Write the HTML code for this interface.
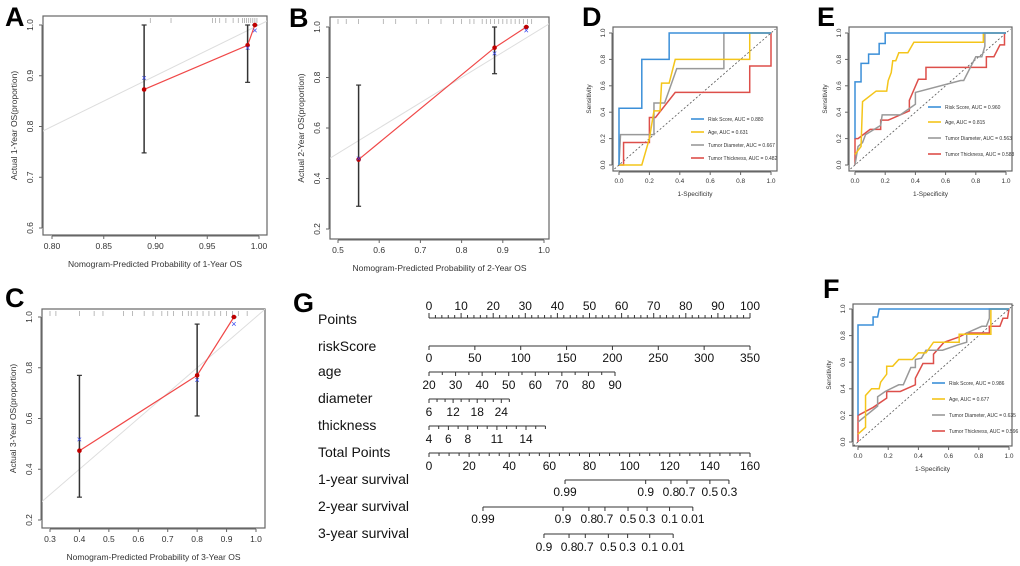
<!DOCTYPE html>
<html><head><meta charset="utf-8">
<style>
html,body{margin:0;padding:0;background:#fff;}
svg{display:block;font-family:"Liberation Sans",Arial,sans-serif;}
</style></head>
<body>
<svg id="fig" width="1020" height="566" viewBox="0 0 1020 566" xmlns="http://www.w3.org/2000/svg">
<defs>
<clipPath id="clipA"><rect x="43" y="16" width="224" height="219"/></clipPath>
<clipPath id="clipB"><rect x="330" y="17" width="219" height="222"/></clipPath>
<clipPath id="clipC"><rect x="42" y="309" width="223" height="219"/></clipPath>
</defs>
</svg>
<script>
// ---------- Calibration data ----------
const calA_pred = [0.889, 0.989, 0.996];
const calA_obs = [0.873, 0.960, 1.0];
const calA_ideal = [0.896, 0.955, 0.989];
const calA_lo = [0.748, 0.887, 1.0];
const calA_hi = [1.0, 1.0, 1.0];
const calA_rug = [0.895,0.915,0.955,0.958,0.962,0.968,0.975,0.98,0.984,0.986,0.988,0.99,0.992,0.994,0.996,0.998];
const calA_xticks = [0.80,0.85,0.90,0.95,1.00];
const calA_xlabels = ["0.80","0.85","0.90","0.95","1.00"];
const calA_yticks = [0.6,0.7,0.8,0.9,1.0];
const calA_ylabels = ["0.6","0.7","0.8","0.9","1.0"];

const calB_pred = [0.55, 0.88, 0.957];
const calB_obs = [0.475, 0.918, 1.0];
const calB_ideal = [0.48, 0.895, 0.987];
const calB_lo = [0.29, 0.815, 1.0];
const calB_hi = [0.77, 1.0, 1.0];
const calB_rug = [0.5,0.52,0.55,0.61,0.64,0.69,0.72,0.75,0.78,0.8,0.82,0.83,0.85,0.86,0.87,0.88,0.89,0.9,0.91,0.92,0.93,0.94,0.95,0.96,0.97];
const calB_xticks = [0.5,0.6,0.7,0.8,0.9,1.0];
const calB_xlabels = ["0.5","0.6","0.7","0.8","0.9","1.0"];
const calB_yticks = [0.2,0.4,0.6,0.8,1.0];
const calB_ylabels = ["0.2","0.4","0.6","0.8","1.0"];

const calC_pred = [0.40, 0.80, 0.925];
const calC_obs = [0.473, 0.77, 1.0];
const calC_ideal = [0.517, 0.752, 0.972];
const calC_lo = [0.29, 0.61, 1.0];
const calC_hi = [0.77, 0.972, 1.0];
const calC_rug = [0.3,0.32,0.4,0.45,0.48,0.55,0.58,0.62,0.65,0.68,0.7,0.72,0.75,0.77,0.78,0.8,0.82,0.84,0.86,0.88,0.9,0.92,0.94,0.97];
const calC_xticks = [0.3,0.4,0.5,0.6,0.7,0.8,0.9,1.0];
const calC_xlabels = ["0.3","0.4","0.5","0.6","0.7","0.8","0.9","1.0"];
const calC_yticks = [0.2,0.4,0.6,0.8,1.0];
const calC_ylabels = ["0.2","0.4","0.6","0.8","1.0"];

// ---------- ROC data (fpr, tpr) ----------
const rocD_risk_x = [0,0,0.15,0.15,0.33,0.33,1];
const rocD_risk_y = [0,0.43,0.43,0.8,0.8,1,1];
const rocD_age_x = [0,0.15,0.2,0.23,0.27,0.28,0.33,0.37,0.86,0.86,1];
const rocD_age_y = [0,0,0.2,0.41,0.41,0.62,0.62,0.8,0.8,1,1];
const rocD_diam_x = [0,0.01,0.23,0.23,0.3,0.38,0.69,0.69,1];
const rocD_diam_y = [0,0.23,0.23,0.47,0.47,0.73,0.73,1,1];
const rocD_thick_x = [0,0.03,0.03,0.2,0.2,0.24,0.37,0.86,0.86,1,1];
const rocD_thick_y = [0,0,0.17,0.17,0.36,0.36,0.55,0.55,0.75,0.75,1];
const rocD_legend = ["Risk Score, AUC = 0.880","Age, AUC = 0.631","Tumor Diameter, AUC = 0.667","Tumor Thickness, AUC = 0.482"];

const rocE_risk_x = [0,0,0.04,0.04,0.09,0.09,0.16,0.16,0.2,0.2,1];
const rocE_risk_y = [0.2,0.63,0.63,0.77,0.77,0.84,0.84,0.92,0.92,1,1];
const rocE_age_x = [0,0.04,0.05,0.14,0.21,0.22,0.24,0.25,0.27,0.29,0.35,0.39,0.85,0.85,1];
const rocE_age_y = [0.08,0.14,0.48,0.56,0.56,0.64,0.7,0.79,0.79,0.85,0.85,0.93,0.93,1,1];
const rocE_diam_x = [0,0.02,0.05,0.07,0.17,0.18,0.3,0.4,0.4,0.7,0.72,0.8,0.84,0.86,0.86,1];
const rocE_diam_y = [0,0.14,0.17,0.23,0.3,0.38,0.38,0.46,0.55,0.64,0.64,0.82,0.82,0.9,1,1];
const rocE_thick_x = [0,0,0.02,0.1,0.17,0.17,0.22,0.36,0.36,0.42,0.47,0.47,0.87,0.87,0.92,0.96,0.99,0.99,1];
const rocE_thick_y = [0,0.2,0.2,0.27,0.27,0.34,0.34,0.41,0.49,0.65,0.65,0.74,0.74,0.82,0.82,0.91,0.91,1,1];
const rocE_legend = ["Risk Score, AUC = 0.960","Age, AUC = 0.815","Tumor Diameter, AUC = 0.563","Tumor Thickness, AUC = 0.583"];

const rocF_risk_x = [0,0,0.1,0.1,0.13,0.14,1];
const rocF_risk_y = [0.2,0.88,0.88,0.94,0.94,1,1];
const rocF_age_x = [0,0.05,0.05,0.09,0.14,0.15,0.19,0.19,0.23,0.27,0.36,0.4,0.45,0.5,0.67,0.67,0.88,0.88,1];
const rocF_age_y = [0.06,0.11,0.35,0.4,0.4,0.45,0.51,0.57,0.57,0.62,0.62,0.67,0.67,0.75,0.75,0.81,0.81,1,1];
const rocF_diam_x = [0,0.13,0.13,0.18,0.27,0.3,0.35,0.38,0.38,0.42,0.45,0.56,0.66,0.72,0.72,0.82,0.85,0.87,0.87,1];
const rocF_diam_y = [0.15,0.27,0.34,0.38,0.43,0.43,0.56,0.56,0.62,0.63,0.69,0.69,0.73,0.75,0.82,0.87,0.87,0.93,1,1];
const rocF_thick_x = [0,0,0.1,0.19,0.19,0.28,0.38,0.38,0.43,0.5,0.5,0.57,0.67,0.72,0.87,0.87,0.94,0.96,0.99,1];
const rocF_thick_y = [0,0.2,0.26,0.33,0.38,0.38,0.43,0.48,0.59,0.59,0.66,0.75,0.79,0.82,0.82,0.87,0.87,0.93,0.93,1];
const rocF_legend = ["Risk Score, AUC = 0.986","Age, AUC = 0.677","Tumor Diameter, AUC = 0.635","Tumor Thickness, AUC = 0.596"];

const rocTicks = [0,0.2,0.4,0.6,0.8,1.0];
const rocTickLabels = ["0.0","0.2","0.4","0.6","0.8","1.0"];

// ---------- Nomogram data ----------
const nomoPointsLabels = [0,10,20,30,40,50,60,70,80,90,100];
const nomoRiskLabels = [0,50,100,150,200,250,300,350];
const nomoAgeLabels = [20,30,40,50,60,70,80,90];
const nomoDiamLabels = [6,12,18,24];
const nomoThickLabels = [4,6,8,11,14];
const nomoTotalLabels = [0,20,40,60,80,100,120,140,160];
const nomoSurv1Labels = ["0.99","0.9","0.8","0.7","0.5","0.3"];
const nomoSurv1Pts = [67.8,108,120.6,128.6,140,149.5];
const nomoSurv2Labels = ["0.99","0.9","0.8","0.7","0.5","0.3","0.1","0.01"];
const nomoSurv2Pts = [26.9,66.8,79.7,87.7,99.2,108.7,119.9,131.5];
const nomoSurv3Labels = ["0.9","0.8","0.7","0.5","0.3","0.1","0.01"];
const nomoSurv3Pts = [57.3,69.8,77.9,89.4,99,110,121.7];

const NS = "http://www.w3.org/2000/svg";
const fig = document.getElementById("fig");
function mk(tag, attrs, parent) {
  const e = document.createElementNS(NS, tag);
  for (const k in attrs) e.setAttribute(k, attrs[k]);
  (parent || fig).appendChild(e);
  return e;
}
function txt(s, attrs, parent) { const t = mk("text", attrs, parent); t.textContent = s; return t; }
function lin(v0,p0,v1,p1){ return v => p0 + (v - v0) * (p1 - p0) / (v1 - v0); }

function panelLetter(s, x, y, name) {
  const t = txt(s, {x:x, y:y, "font-size":27, "font-weight":"bold", fill:"#000"});
  
  
}

function axes(g, box, sx, sy, xt, xl, yt, yl, fs, xLabY, yLabX, xTitle, yTitle, xTitleY, yTitleX) {
  const [x0,y0,x1,y1] = box;
  const frame = mk("rect", {x:x0, y:y0, width:x1-x0, height:y1-y0, fill:"none", stroke:"#666", "stroke-width":1.2}, g);
  
  
  const xa = mk("g", {}, g);
  
  
  mk("line", {x1:sx(xt[0]), x2:sx(xt[xt.length-1]), y1:y1+1, y2:y1+1, stroke:"#666"}, xa);
  xt.forEach((v,i) => {
    mk("line", {x1:sx(v), x2:sx(v), y1:y1+1, y2:y1+4, stroke:"#666"}, xa);
    txt(xl[i], {x:sx(v), y:xLabY, "font-size":fs, "text-anchor":"middle", fill:"#333"}, xa);
  });
  const ya = mk("g", {}, g);
  
  
  mk("line", {x1:x0-1, x2:x0-1, y1:sy(yt[0]), y2:sy(yt[yt.length-1]), stroke:"#666"}, ya);
  yt.forEach((v,i) => {
    mk("line", {x1:x0-4, x2:x0-1, y1:sy(v), y2:sy(v), stroke:"#666"}, ya);
    txt(yl[i], {x:yLabX, y:sy(v), "font-size":fs, "text-anchor":"middle", fill:"#333", transform:`rotate(-90 ${yLabX} ${sy(v)})`}, ya);
  });
  const xtl = txt(xTitle, {x:(x0+x1)/2, y:xTitleY, "font-size":fs, "text-anchor":"middle", fill:"#333"}, g);
  
  
  const cy = (y0+y1)/2;
  const ytl = txt(yTitle, {x:yTitleX, y:cy, "font-size":fs, "text-anchor":"middle", fill:"#333", transform:`rotate(-90 ${yTitleX} ${cy})`}, g);
  
  
}

function calPanel(name, box, xm, ym, clip, pred, obs, ideal, lo, hi, rug, xt, xl, yt, yl, titles) {
  const g = mk("g", {});
  
  
  const sx = lin(...xm), sy = lin(...ym);
  axes(g, box, sx, sy, xt, xl, yt, yl, 8.5, box[3]+14, box[0]-10, titles[0], titles[1], box[3]+32, box[0]-26);
  const cg = mk("g", {"clip-path":`url(#${clip})`}, g);
  const diag = mk("line", {x1:sx(0), y1:sy(0), x2:sx(1.2), y2:sy(1.2), stroke:"#ddd", "stroke-width":1}, cg);
  
  
  rug.forEach(v => {
    const r = mk("line", {x1:sx(v), x2:sx(v), y1:box[1]+2, y2:box[1]+7, stroke:"#aaa", "stroke-width":0.8}, cg);
    
    
  });
  pred.forEach((p,i) => {
    const e = mk("line", {x1:sx(p), x2:sx(p), y1:sy(lo[i]), y2:sy(hi[i]), stroke:"#333", "stroke-width":1.5}, g);
    
    
    mk("line", {x1:sx(p)-2.5, x2:sx(p)+2.5, y1:sy(lo[i]), y2:sy(lo[i]), stroke:"#333", "stroke-width":1.2}, g);
    mk("line", {x1:sx(p)-2.5, x2:sx(p)+2.5, y1:sy(hi[i]), y2:sy(hi[i]), stroke:"#333", "stroke-width":1.2}, g);
  });
  const pl = mk("polyline", {points:pred.map((p,i)=>`${sx(p)},${sy(obs[i])}`).join(" "), fill:"none", stroke:"#f04848", "stroke-width":1.2}, g);
  
  
  pred.forEach((p,i) => {
    const c = mk("circle", {cx:sx(p), cy:sy(obs[i]), r:2.3, fill:"#c00000"}, g);
    
    
    const x = sx(p), y = sy(ideal[i]);
    const b = txt("×", {x:x, y:y+3, "font-size":9, "text-anchor":"middle", fill:"#3344ee"}, g);
    
    
  });
}

calPanel("calibration-1-year", [43,16,267,235], [0.8,52,1.0,259], [0.6,228,1.0,25], "clipA",
  calA_pred, calA_obs, calA_ideal, calA_lo, calA_hi, calA_rug, calA_xticks, calA_xlabels, calA_yticks, calA_ylabels,
  ["Nomogram-Predicted Probability of 1-Year OS","Actual 1-Year OS(proportion)"]);
calPanel("calibration-2-year", [330,17,549,239], [0.5,338,1.0,544], [0.2,229,1.0,27], "clipB",
  calB_pred, calB_obs, calB_ideal, calB_lo, calB_hi, calB_rug, calB_xticks, calB_xlabels, calB_yticks, calB_ylabels,
  ["Nomogram-Predicted Probability of 2-Year OS","Actual 2-Year OS(proportion)"]);
calPanel("calibration-3-year", [42,309,265,528], [0.3,50,1.0,256], [0.2,520,1.0,317], "clipC",
  calC_pred, calC_obs, calC_ideal, calC_lo, calC_hi, calC_rug, calC_xticks, calC_xlabels, calC_yticks, calC_ylabels,
  ["Nomogram-Predicted Probability of 3-Year OS","Actual 3-Year OS(proportion)"]);

const rocColors = ["#3b8fd8","#f4c51a","#999999","#dd4f4a"];
const rocNames = ["roc-risk-score","roc-age","roc-tumor-diameter","roc-tumor-thickness"];
function rocPanel(name, box, xm, ym, series, legend, legX, legY) {
  const g = mk("g", {});
  
  
  const sx = lin(...xm), sy = lin(...ym);
  axes(g, box, sx, sy, rocTicks, rocTickLabels, rocTicks, rocTickLabels, 6.5, box[3]+12, box[0]-8, "1-Specificity", "Sensitivity", box[3]+25, box[0]-22);
  const d = mk("line", {x1:sx(-0.03), y1:sy(-0.03), x2:sx(1.03), y2:sy(1.03), stroke:"#555", "stroke-width":0.8, "stroke-dasharray":"2,2"}, g);
  
  
  [3,2,1,0].forEach(k => {
    const [xs, ys] = series[k];
    const p = mk("polyline", {points:xs.map((v,i)=>`${sx(v)},${sy(ys[i])}`).join(" "), fill:"none", stroke:rocColors[k], "stroke-width":1.5}, g);
    
    
  });
  legend.forEach((s,k) => {
    const le = mk("g", {}, g);
    
    
    mk("line", {x1:legX, x2:legX+13, y1:legY[k], y2:legY[k], stroke:rocColors[k], "stroke-width":1.6}, le);
    txt(s, {x:legX+17, y:legY[k]+2, "font-size":5, fill:"#333"}, le);
  });
}
rocPanel("roc-panel-d", [613,27,777,171], [0,619,1,771], [0,165,1,33],
  [[rocD_risk_x,rocD_risk_y],[rocD_age_x,rocD_age_y],[rocD_diam_x,rocD_diam_y],[rocD_thick_x,rocD_thick_y]],
  rocD_legend, 691, [119,132,145,158]);
rocPanel("roc-panel-e", [849,27,1012,171], [0,855,1,1006], [0,165,1,33],
  [[rocE_risk_x,rocE_risk_y],[rocE_age_x,rocE_age_y],[rocE_diam_x,rocE_diam_y],[rocE_thick_x,rocE_thick_y]],
  rocE_legend, 928, [107,122,138,154]);
rocPanel("roc-panel-f", [853,304,1012,446], [0,858,1,1009], [0,442,1,309],
  [[rocF_risk_x,rocF_risk_y],[rocF_age_x,rocF_age_y],[rocF_diam_x,rocF_diam_y],[rocF_thick_x,rocF_thick_y]],
  rocF_legend, 932, [383,399,415,431]);

// ---------- Nomogram ----------
const ng = mk("g", {});


const px = lin(0,429,100,750);
const tx = lin(0,429,160,750);
function nomoRow(label, labelY, axisY, lo, hi, tickVals, labVals, labTexts, labY, scale, minorTicks, name) {
  const row = mk("g", {}, ng);
  
  
  txt(label, {x:318, y:labelY, "font-size":14, fill:"#111"}, row);
  mk("line", {x1:scale(lo), x2:scale(hi), y1:axisY, y2:axisY, stroke:"#333", "stroke-width":1}, row);
  minorTicks.forEach(v => mk("line", {x1:scale(v), x2:scale(v), y1:axisY, y2:axisY+(tickVals.includes(v)?4:3), stroke:"#333"}, row));
  labVals.forEach((v,i) => txt(labTexts[i], {x:scale(v), y:labY, "font-size":12, "text-anchor":"middle", fill:"#111"}, row));
}
function range(a,b,s){ const r=[]; for(let v=a; v<=b+1e-9; v+=s) r.push(+v.toFixed(4)); return r; }
// Points (labels above)
(function(){
  const row = mk("g", {}, ng);
  
  
  txt("Points", {x:318, y:324, "font-size":14, fill:"#111"}, row);
  mk("line", {x1:px(0), x2:px(100), y1:318, y2:318, stroke:"#333"}, row);
  range(0,100,2).forEach(v => mk("line", {x1:px(v), x2:px(v), y1:318, y2:(v%10===0?313:315), stroke:"#333"}, row));
  nomoPointsLabels.forEach(v => txt(String(v), {x:px(v), y:310, "font-size":12, "text-anchor":"middle", fill:"#111"}, row));
})();
const riskScale = v => px(v/350*100);
nomoRow("riskScore", 351, 346, 0, 350, nomoRiskLabels, nomoRiskLabels, nomoRiskLabels.map(String), 362, riskScale, nomoRiskLabels, "riskscore-scale");
const ageScale = v => 429 + (v-20)*(186/70);
nomoRow("age", 376, 372, 20, 90, nomoAgeLabels, nomoAgeLabels, nomoAgeLabels.map(String), 389, ageScale, range(20,90,5), "age-scale");
const diamScale = v => 429 + (v-6)*(24.1/6);
nomoRow("diameter", 403, 399, 6, 26, nomoDiamLabels, nomoDiamLabels, nomoDiamLabels.map(String), 416, diamScale, range(6,26,2), "diameter-scale");
const thickScale = v => 429 + (v-4)*9.7;
nomoRow("thickness", 430, 426, 4, 16, nomoThickLabels, nomoThickLabels, nomoThickLabels.map(String), 443, thickScale, range(4,16,1), "thickness-scale");
nomoRow("Total Points", 457, 453, 0, 160, nomoTotalLabels, nomoTotalLabels, nomoTotalLabels.map(String), 470, tx, range(0,160,5), "total-points-scale");
nomoRow("1-year survival", 484, 480, nomoSurv1Pts[0], nomoSurv1Pts[nomoSurv1Pts.length-1], nomoSurv1Pts, nomoSurv1Pts, nomoSurv1Labels, 496, tx, nomoSurv1Pts, "survival-1-year-scale");
nomoRow("2-year survival", 511, 507, nomoSurv2Pts[0], nomoSurv2Pts[nomoSurv2Pts.length-1], nomoSurv2Pts, nomoSurv2Pts, nomoSurv2Labels, 523, tx, nomoSurv2Pts, "survival-2-year-scale");
nomoRow("3-year survival", 538, 534, nomoSurv3Pts[0], nomoSurv3Pts[nomoSurv3Pts.length-1], nomoSurv3Pts, nomoSurv3Pts, nomoSurv3Labels, 551, tx, nomoSurv3Pts, "survival-3-year-scale");

panelLetter("A", 5, 26, "panel-label-a");
panelLetter("B", 289, 27, "panel-label-b");
panelLetter("C", 5, 307, "panel-label-c");
panelLetter("D", 582, 26, "panel-label-d");
panelLetter("E", 817, 26, "panel-label-e");
panelLetter("F", 823, 298, "panel-label-f");
panelLetter("G", 293, 312, "panel-label-g");
</script>
</body></html>
